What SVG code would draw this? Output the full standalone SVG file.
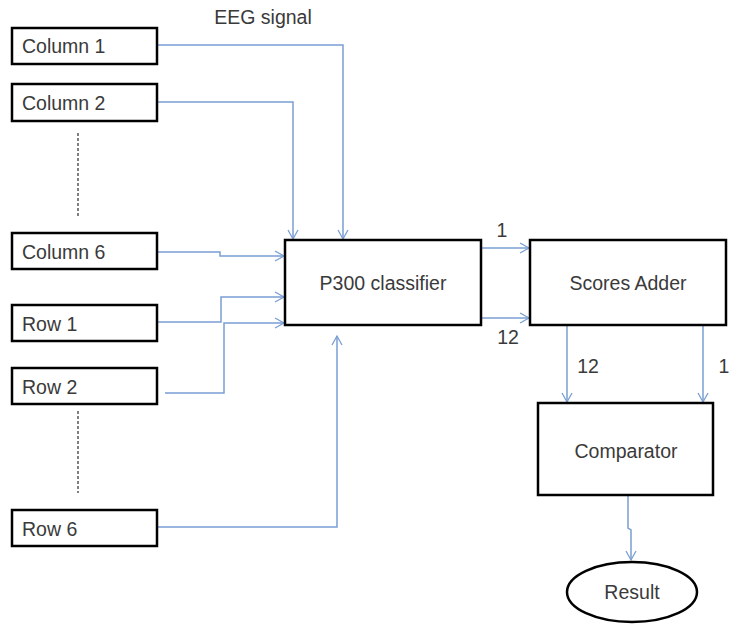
<svg xmlns="http://www.w3.org/2000/svg" width="729" height="624" viewBox="0 0 729 624">
<defs>
<marker id="arr" markerWidth="12" markerHeight="12" refX="10" refY="6" orient="auto" markerUnits="userSpaceOnUse">
<path d="M1,1 L10,6 L1,11" fill="none" stroke="#7a9fd3" stroke-width="1.3"/>
</marker>
<style>
.box{fill:#fff;stroke:#000;stroke-width:2.5}
.t{font-family:"Liberation Sans",Arial,sans-serif;font-size:19.5px;fill:#3a3a3a}
.c{fill:none;stroke:#7a9fd3;stroke-width:1.5}
.dot{stroke:#555;stroke-width:1.5;stroke-dasharray:3,2}
</style>
</defs>
<rect width="729" height="624" fill="#fff"/>
<g id="connectors">
<path class="c" d="M157,45 H343 V239" marker-end="url(#arr)"/>
<path class="c" d="M157,102 H293 V239" marker-end="url(#arr)"/>
<path class="c" d="M157,252 H220 V256 H284" marker-end="url(#arr)"/>
<path class="c" d="M157,322 H221 V297 H284" marker-end="url(#arr)"/>
<path class="c" d="M165,393 H224 V323 H284" marker-end="url(#arr)"/>
<path class="c" d="M157,527 H337 V336" marker-end="url(#arr)"/>
<path class="c" d="M481,248 H529" marker-end="url(#arr)"/>
<path class="c" d="M481,318 H529" marker-end="url(#arr)"/>
<path class="c" d="M567,325 V402" marker-end="url(#arr)"/>
<path class="c" d="M703,325 V402" marker-end="url(#arr)"/>
<path class="c" d="M628,495 V528 L631,530 V560" marker-end="url(#arr)"/>
<line class="dot" x1="78" y1="133" x2="78" y2="217"/>
<line class="dot" x1="78" y1="411" x2="78" y2="493"/>
</g>
<text class="t" x="263" y="24" text-anchor="middle">EEG signal</text>
<text class="t" x="502" y="237" text-anchor="middle">1</text>
<text class="t" x="508" y="344" text-anchor="middle">12</text>
<text class="t" x="588" y="373" text-anchor="middle">12</text>
<text class="t" x="724" y="373" text-anchor="middle">1</text>
<g id="col1"><rect class="box" x="12" y="28" width="145" height="36"/><text class="t" x="22" y="53">Column 1</text></g>
<g id="col2"><rect class="box" x="12" y="84" width="145" height="37"/><text class="t" x="22" y="110">Column 2</text></g>
<g id="col6"><rect class="box" x="12" y="233" width="145" height="36"/><text class="t" x="22" y="259">Column 6</text></g>
<g id="row1"><rect class="box" x="12" y="305" width="145" height="36"/><text class="t" x="22" y="331">Row 1</text></g>
<g id="row2"><rect class="box" x="12" y="368" width="145" height="36"/><text class="t" x="22" y="394">Row 2</text></g>
<g id="row6"><rect class="box" x="12" y="510" width="145" height="36"/><text class="t" x="22" y="536">Row 6</text></g>
<g id="p300"><rect class="box" x="285" y="240" width="196" height="85"/><text class="t" x="383" y="290" text-anchor="middle">P300 classifier</text></g>
<g id="adder"><rect class="box" x="530" y="240" width="196" height="85"/><text class="t" x="628" y="290" text-anchor="middle">Scores Adder</text></g>
<g id="comp"><rect class="box" x="538" y="403" width="175" height="92"/><text class="t" x="626" y="458" text-anchor="middle">Comparator</text></g>
<g id="result"><ellipse cx="632" cy="592" rx="65" ry="30" fill="#fff" stroke="#000" stroke-width="2.5"/><text class="t" x="632" y="599" text-anchor="middle">Result</text></g>
</svg>
